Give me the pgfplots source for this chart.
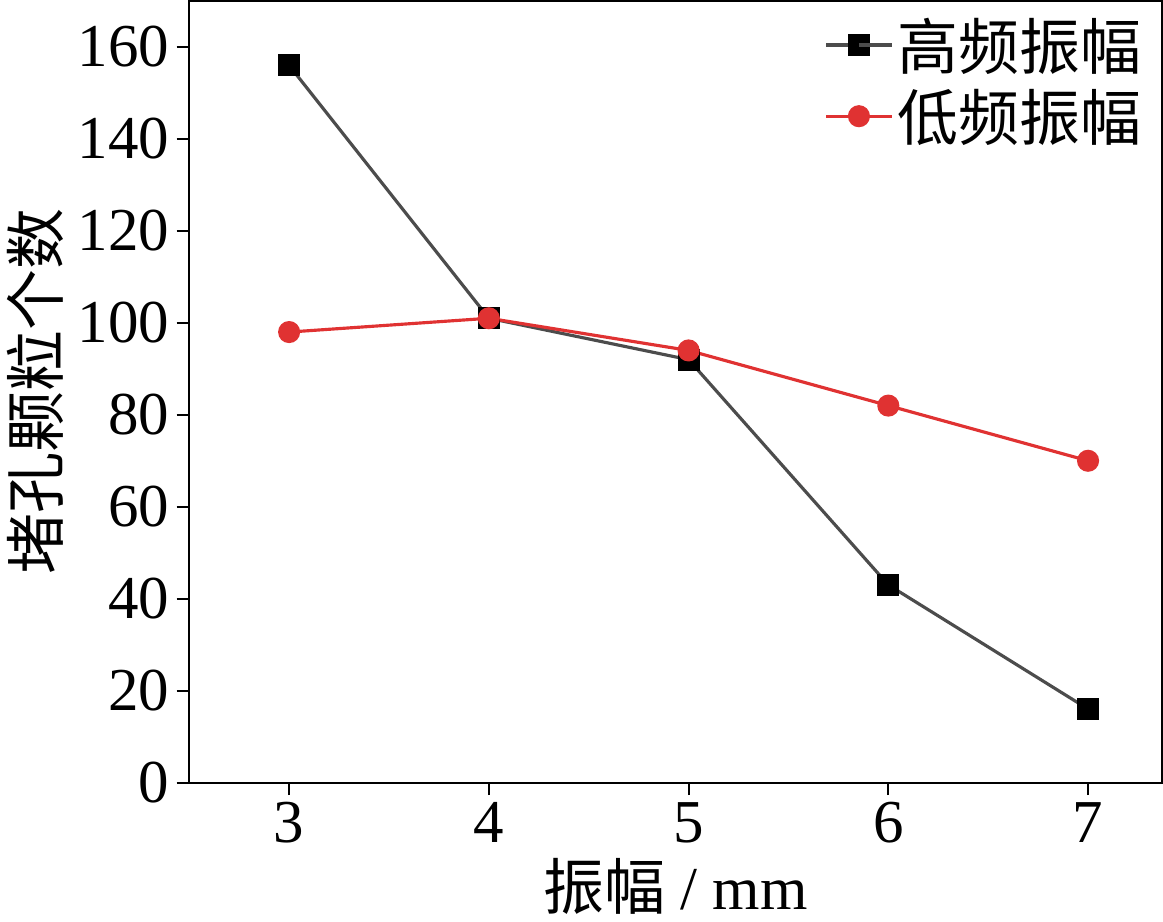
\documentclass[border=0pt]{standalone}
\usepackage{pgfplots}
\pgfplotsset{compat=1.18}
\usepackage{fontspec}
\setmainfont{Liberation Serif}
\newfontfamily\cjk{Noto Sans CJK SC}
\begin{document}
\begin{tikzpicture}
\begin{axis}[
  scale only axis, width=463pt, height=372pt,
  xmin=2.5, xmax=7.37, ymin=0, ymax=170,
  xtick={3,4,5,6,7}, ytick={0,20,...,160},
  tick align=outside, tick pos=left, major tick length=6pt,
  axis line style={line width=1pt}, tick style={line width=1pt, black},
  /pgf/number format/assume math mode=true,
  ticklabel style={font=\fontsize{29}{32}\selectfont},
  xlabel={{\cjk 振幅} / mm}, ylabel={\cjk 堵孔颗粒个数},
  label style={font=\fontsize{29}{32}\selectfont},
  legend style={draw=none, fill=none, at={(0.99,0.99)}, anchor=north east, font=\fontsize{29}{40}\selectfont\cjk, row sep=4pt},
  legend image post style={sharp plot},
  legend image code/.code={\draw[#1] (0cm,0cm) -- (0.55cm,0cm); \draw[#1,mark repeat=2,mark phase=2] plot coordinates {(0cm,0cm) (0.55cm,0cm) (1.1cm,0cm)}; \draw[#1] (0.55cm,0cm) -- (1.1cm,0cm);},
  legend cell align=left,
]
\addplot[color=black!70, line width=1.5pt, mark=square*, mark size=4.5pt, mark options={fill=black, draw=black}]
 coordinates {(3,156) (4,101) (5,92) (6,43) (7,16)};
\addlegendentry{高频振幅}
\addplot[color={rgb,255:red,224;green,50;blue,50}, line width=1.5pt, mark=*, mark size=4.5pt]
 coordinates {(3,98) (4,101) (5,94) (6,82) (7,70)};
\addlegendentry{低频振幅}
\end{axis}
\end{tikzpicture}
\end{document}
